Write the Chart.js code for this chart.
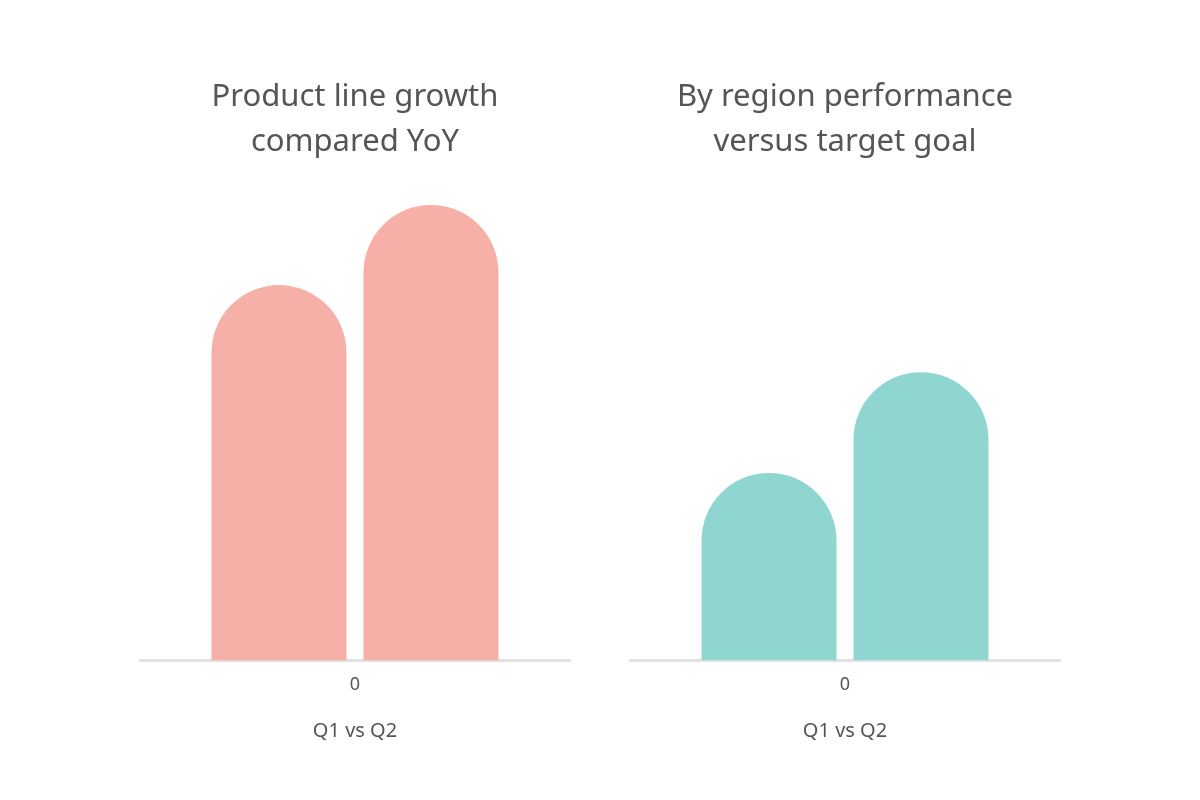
<!DOCTYPE html>
<html>
<head>
<meta charset="utf-8">
<script src="https://cdn.jsdelivr.net/npm/chart.js@4"></script>
<style>
  html, body { margin:0; padding:0; background:#ffffff; width:1200px; height:800px; overflow:hidden; }
  .box { position:absolute; top:65px; width:470px; height:682px; }
  #b1 { left:120px; }
  #b2 { left:610px; }
</style>
</head>
<body>
<div class="box" id="b1"><canvas id="c1"></canvas></div>
<div class="box" id="b2"><canvas id="c2"></canvas></div>
<script>
const categories = ["0"];
const seriesNames = ["Q1", "Q2"];
const leftValues = [81.5, 98.9];
const rightValues = [40.7, 62.6];
const leftTitle = ["Product line growth", "compared YoY"];
const rightTitle = ["By region performance", "versus target goal"];
const leftAxisTitle = "Q1 vs Q2";
const rightAxisTitle = "Q1 vs Q2";
const leftColor = "#f7b0a7";
const rightColor = "#90d6d0";
const yMax = 100;

function makeChart(id, values, color, title, axisTitle) {
  return new Chart(document.getElementById(id), {
    type: "bar",
    data: {
      labels: categories,
      datasets: seriesNames.map((n, i) => ({
        label: n,
        data: [values[i]],
        backgroundColor: color,
        borderWidth: 0,
        borderRadius: 200,
        borderSkipped: "start",
        categoryPercentage: 0.707,
        barPercentage: 0.888
      }))
    },
    options: {
      responsive: true,
      maintainAspectRatio: false,
      animation: false,
      layout: { padding: { left: 20, right: 20, top: 0, bottom: 0 } },
      plugins: {
        legend: { display: false },
        tooltip: { enabled: false },
        title: {
          display: true,
          text: title,
          color: "#555555",
          font: { family: "Noto Sans", size: 31, weight: "normal", lineHeight: 1.45 },
          padding: { top: 10, bottom: 35 }
        }
      },
      scales: {
        x: {
          grid: { display: false, drawTicks: false },
          border: { display: true, color: "#e2e2e2", width: 3 },
          ticks: { color: "#555555", font: { family: "Noto Sans", size: 18 }, padding: 14 },
          title: { display: true, text: axisTitle, color: "#555555", font: { family: "Noto Sans", size: 20 }, padding: { top: 9 } }
        },
        y: {
          display: false,
          min: 0,
          max: yMax
        }
      }
    }
  });
}

makeChart("c1", leftValues, leftColor, leftTitle, leftAxisTitle);
makeChart("c2", rightValues, rightColor, rightTitle, rightAxisTitle);
</script>
</body>
</html>
